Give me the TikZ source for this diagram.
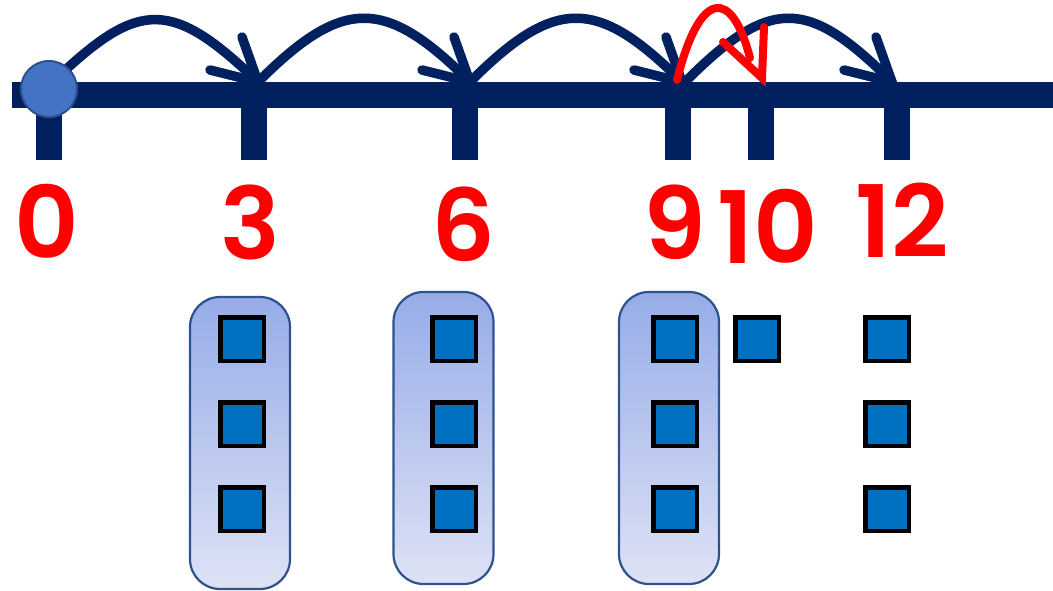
\documentclass[tikz,border=0pt]{standalone}
\usepackage{fontspec}
\setmainfont{Poppins}
\newfontfamily\numfont{Poppins SemiBold}
\definecolor{navy}{HTML}{002060}
\definecolor{dotblue}{HTML}{4472C4}
\definecolor{dotedge}{HTML}{2F528F}
\definecolor{sqblue}{HTML}{0070C0}
\definecolor{boxtop}{HTML}{97ACE8}
\definecolor{boxbot}{HTML}{DDE2F5}
\definecolor{numred}{HTML}{FF0000}
\tikzset{
  jump/.style={draw=navy, line width=9.5pt, line cap=round, line join=miter},
  redjump/.style={draw=numred, line width=8pt, line cap=round, line join=miter},
  tick/.style={fill=navy},
  num/.style={text=numred, font=\fontsize{100}{100}\numfont, inner sep=0pt},
  grp/.style={draw=dotedge, line width=2.2pt, rounded corners=30pt, top color=boxtop, bottom color=boxbot, minimum width=100pt, minimum height=292pt, inner sep=0pt},
  sq/.style={draw=black, line width=4.5pt, fill=sqblue, minimum size=43.5pt, inner sep=0pt}
}
\begin{document}
\begin{tikzpicture}[x=1pt,y=-1pt]
\useasboundingbox (0,0) rectangle (1053,591);
% number line
\fill[navy] (12,82) rectangle (1053,108);
\foreach \x/\n in {49/0,254/3,465/6,678/9,761/10,897/12}{
  \fill[tick] (\x-13,95) rectangle (\x+13,160);
}
\coordinate (s0) at (60,75);
\coordinate (t3) at (258,82);
\coordinate (t6) at (470,82);
\coordinate (t9) at (682,82);
\coordinate (t9b) at (685,82);
\coordinate (t12) at (892,82);
% jumps
\draw[jump] (s0) .. controls (140,0) and (173,0) .. (t3);
\draw[jump] (t3) .. controls ++(85,-85) and ++(-85,-85) .. (t6);
\draw[jump] (t6) .. controls ++(85,-85) and ++(-85,-85) .. (t9);
\draw[jump] (t9b) .. controls ++(85,-85) and ++(-85,-85) .. (t12);
\foreach \t in {t3,t6,t9,t12}{
  \draw[jump] (\t) ++(-16,-45) -- (\t) -- ++(-48,-12);
}
% start dot
\node[circle, fill=dotblue, draw=dotedge, line width=2pt, minimum size=56pt, inner sep=0pt] (dot) at (49,89) {};
% red jump 9 -> 10
\coordinate (r0) at (677,80);
\coordinate (r1) at (762,78);
\draw[redjump] (r0) .. controls (700,-12) and (732,-12) .. (750,58);
\draw[redjump] (723,42) -- (r1) -- (764,27);
% numbers
\node[num] (n0) at (47,221) {0};
\node[num] (n3) at (250,222) {3};
\node[num] (n6) at (463,224) {6};
\node[num] (n9) at (675,222) {9};
\node[num] (n10) at (768,226) {10};
\node[num] (n12) at (902,220) {12};
% groups
\node[grp] (g1) at (240,443) {};
\node[grp] (g2) at (443.5,438) {};
\node[grp] (g3) at (669,438) {};
\foreach \x/\c in {242/a,454/b,675/c,887/e}{
  \node[sq] (\c1) at (\x,339) {};
  \node[sq] (\c2) at (\x,424) {};
  \node[sq] (\c3) at (\x,509) {};
}
\node[sq] (d1) at (757,339) {};
\end{tikzpicture}
\end{document}
